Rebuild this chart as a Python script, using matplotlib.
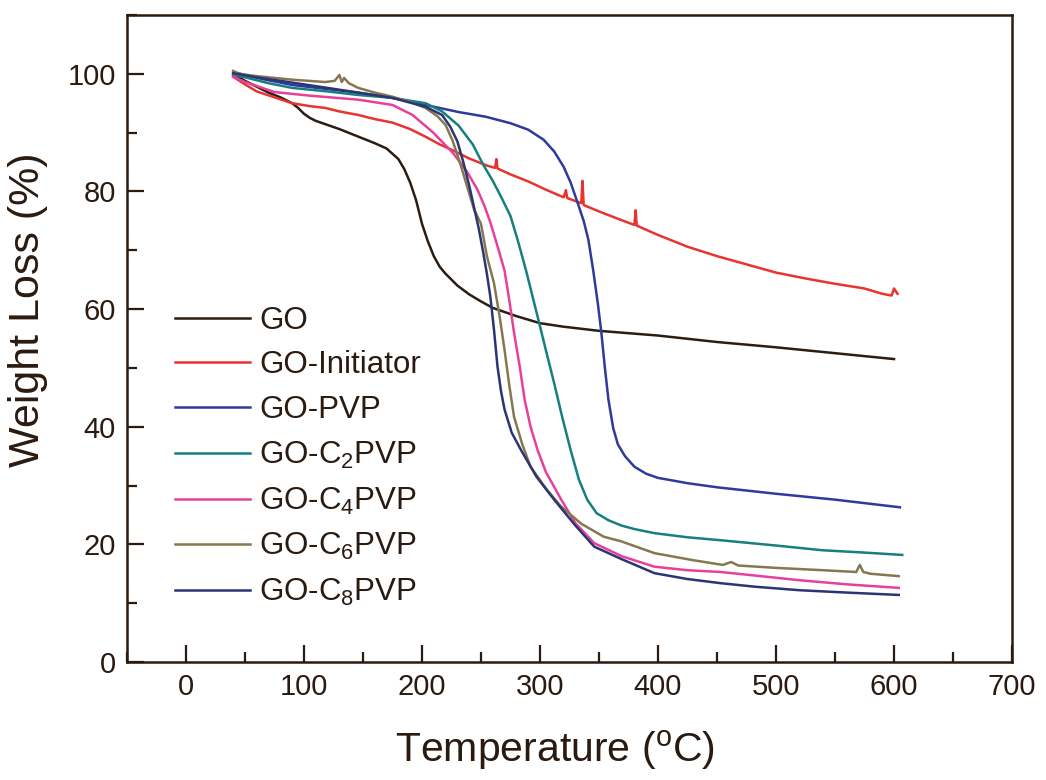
import numpy as np
import matplotlib
matplotlib.use("Agg")
import matplotlib.pyplot as plt
from matplotlib.ticker import MultipleLocator

plt.rcParams['font.family'] = ['Liberation Sans', 'DejaVu Sans']
plt.rcParams['mathtext.fontset'] = 'custom'
plt.rcParams['mathtext.rm'] = 'Liberation Sans'
plt.rcParams['mathtext.it'] = 'Liberation Sans'

INK = '#2a1a10'

# TGA curves
go_t = [40, 50, 60, 70, 80, 90, 95, 100, 105, 110, 120, 130, 140, 150, 160, 170, 180, 185,
        190, 195, 200, 205, 210, 215, 220, 230, 240, 250, 260, 280, 300, 320, 350, 400,
        450, 500, 550, 600]
go_w = [100, 98.8, 97.8, 96.8, 96.0, 95.0, 94.2, 93.2, 92.5, 92.0, 91.3, 90.6, 89.8, 89.0,
        88.2, 87.3, 85.5, 83.8, 81.5, 78.5, 74.5, 71.5, 69.0, 67.2, 66.0, 64.0, 62.5, 61.3,
        60.2, 58.8, 57.6, 57.0, 56.3, 55.5, 54.4, 53.5, 52.5, 51.5]

ini_t = [40, 50, 60, 75, 90, 105, 118, 130, 146, 160, 175, 190, 203, 215, 226, 240, 255,
         262, 263, 264, 275, 290, 305, 320, 322, 323, 324, 335, 336, 337, 338, 350, 368,
         380, 381, 382, 383, 400, 425, 450, 475, 500, 525, 550, 575, 590, 598, 600, 603]
ini_w = [99.5, 98.2, 97.0, 96.0, 95.0, 94.5, 94.2, 93.6, 93.0, 92.3, 91.7, 90.6, 89.3, 88.0,
         87.0, 85.6, 84.4, 84.0, 85.5, 83.9, 82.9, 81.7, 80.3, 79.0, 80.2, 78.9, 78.8, 78.0,
         81.8, 77.7, 77.6, 76.6, 75.2, 74.3, 76.8, 74.2, 74.1, 72.6, 70.6, 69.0, 67.6, 66.2,
         65.2, 64.3, 63.5, 62.6, 62.3, 63.5, 62.6]

pvp_t = [40, 60, 90, 120, 146, 175, 203, 231, 254, 275, 290, 303, 312, 320, 326, 332, 337,
         341, 345, 349, 352, 355, 358, 362, 366, 372, 380, 390, 400, 425, 450, 500, 550, 605]
pvp_w = [100.3, 99.3, 98.1, 97.4, 96.8, 95.9, 94.7, 93.5, 92.7, 91.6, 90.5, 88.8, 86.8, 84.2,
         81.5, 78.0, 75.0, 71.8, 66.7, 61.0, 56.0, 50.0, 44.6, 39.8, 37.0, 35.0, 33.2, 32.0,
         31.3, 30.4, 29.7, 28.6, 27.6, 26.3]

c2_t = [40, 50, 70, 90, 120, 146, 175, 203, 217, 231, 243, 252, 260, 267, 275, 281, 288, 298,
        305, 312, 319, 326, 333, 340, 348, 358, 369, 380, 397, 425, 453, 500, 539, 575, 607]
c2_w = [99.8, 99.4, 98.4, 97.6, 97.0, 96.4, 95.9, 95.0, 93.6, 91.2, 88.0, 84.5, 81.8, 79.1,
        75.8, 71.8, 66.7, 58.7, 53.0, 47.4, 41.5, 36.0, 31.0, 27.6, 25.3, 24.1, 23.2, 22.6,
        21.9, 21.2, 20.7, 19.8, 19.0, 18.6, 18.2]

c4_t = [40, 50, 75, 104, 146, 175, 192, 209, 226, 238, 247, 253, 258, 265, 270, 274, 278,
        283, 287, 292, 298, 305, 318, 330, 346, 369, 397, 425, 453, 482, 520, 560, 604]
c4_w = [99.5, 98.6, 96.9, 96.3, 95.6, 94.7, 93.0, 90.1, 86.6, 83.4, 80.3, 77.5, 74.7, 70.0,
        66.5, 61.5, 56.0, 50.0, 44.6, 40.0, 36.0, 32.3, 27.6, 23.6, 20.2, 18.0, 16.2, 15.6,
        15.3, 14.7, 13.9, 13.2, 12.6]

c6_t = [40, 45, 60, 90, 118, 126, 130, 132, 134, 138, 146, 160, 175, 190, 203, 213, 220, 226,
        232, 238, 244, 250, 255, 261, 266, 270, 274, 278, 285, 292, 305, 318, 335, 354, 369,
        397, 430, 455, 462, 468, 500, 540, 568, 571, 574, 580, 604]
c6_w = [100.5, 100.0, 99.6, 99.0, 98.6, 98.8, 99.8, 98.6, 99.3, 98.4, 97.6, 96.8, 96.1, 95.2,
        94.2, 92.8, 91.3, 88.6, 85.0, 81.0, 77.0, 74.5, 69.0, 64.4, 58.5, 53.0, 47.0, 41.7,
        37.0, 33.2, 29.5, 26.4, 23.5, 21.3, 20.5, 18.5, 17.3, 16.5, 17.0, 16.4, 16.0, 15.6,
        15.3, 16.5, 15.3, 15.0, 14.6]

c8_t = [40, 60, 90, 120, 146, 175, 203, 217, 224, 230, 235, 240, 244, 248, 252, 255, 258,
        261, 264, 267, 270, 276, 284, 297, 312, 330, 346, 369, 397, 425, 453, 482, 520, 560, 604]
c8_w = [100.1, 99.4, 98.5, 97.6, 96.8, 95.9, 94.4, 93.0, 91.0, 88.5, 85.0, 81.0, 77.4, 73.8,
        69.5, 66.0, 62.0, 56.5, 50.2, 46.0, 42.9, 39.0, 36.0, 31.5, 27.6, 23.2, 19.6, 17.5,
        15.1, 14.1, 13.4, 12.8, 12.2, 11.8, 11.4]

labels = ['GO', 'GO-Initiator', 'GO-PVP', 'GO-C$_2$PVP', 'GO-C$_4$PVP', 'GO-C$_6$PVP',
          'GO-C$_8$PVP']
colors = ['#2b1d12', '#e8332e', '#2e3a9c', '#17807e', '#e8409a', '#857850', '#2b3575']
temps = [go_t, ini_t, pvp_t, c2_t, c4_t, c6_t, c8_t]
weights = [go_w, ini_w, pvp_w, c2_w, c4_w, c6_w, c8_w]

fig = plt.figure(figsize=(10.46, 7.8), dpi=100)
ax = fig.add_axes([0.1214, 0.1513, 0.8461, 0.8295])

for t, w, c, lab in zip(temps, weights, colors, labels):
    ax.plot(t, w, color=c, lw=1.8, label=lab)

ax.set_xlim(-50, 700)
ax.set_ylim(0, 110)
ax.xaxis.set_major_locator(MultipleLocator(100))
ax.xaxis.set_minor_locator(MultipleLocator(50))
ax.yaxis.set_major_locator(MultipleLocator(20))
ax.yaxis.set_minor_locator(MultipleLocator(10))
ax.tick_params(which='both', direction='in', colors=INK, width=1.6,
               top=False, right=False, labelsize=21, pad=8)
ax.tick_params(which='major', length=12)
ax.tick_params(which='minor', length=7)
for sp in ax.spines.values():
    sp.set_color(INK)
    sp.set_linewidth(1.8)
for lbl in ax.get_xticklabels() + ax.get_yticklabels():
    lbl.set_color(INK)

ax.set_xlabel('Temperature ($^{\\mathrm{o}}$C)', fontsize=29.5, color=INK)
ax.xaxis.set_label_coords(0.484, -0.102)
ax.set_ylabel('Weight Loss (%)', fontsize=31, color=INK)
ax.yaxis.set_label_coords(-0.089, 0.544)

leg = ax.legend(loc='upper left', bbox_to_anchor=(0.04, 0.57), frameon=False,
                fontsize=22.5, handlelength=2.4, handletextpad=0.3, labelspacing=0.47,
                borderaxespad=0)
for txt in leg.get_texts():
    txt.set_color(INK)
for h in leg.get_lines():
    h.set_linewidth(1.8)

fig.savefig('out.png', dpi=100, facecolor='white')
